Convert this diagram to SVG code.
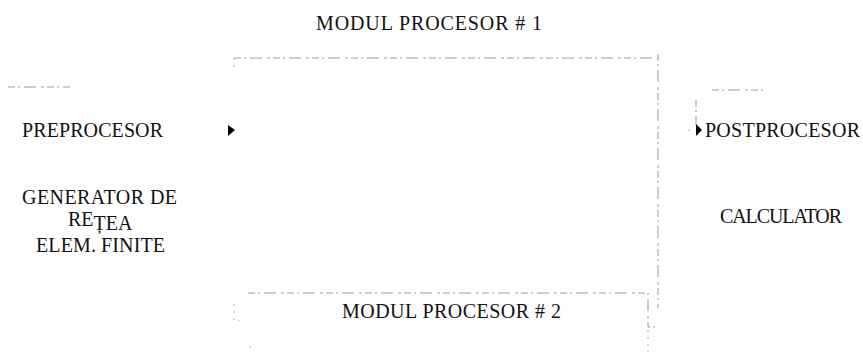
<svg xmlns="http://www.w3.org/2000/svg" width="863" height="352" viewBox="0 0 863 352">
<defs>
<style>
text{font-family:"Liberation Serif","Times New Roman",serif;font-size:20px;fill:#111}
.ln{fill:none;stroke:#9a9a9a;stroke-width:1;stroke-dasharray:7 3 2 4 12 5 3 3}
.lf{fill:none;stroke:#b0b0b0;stroke-width:1;stroke-dasharray:2 5}
.arr{fill:#000}
</style>
</defs>
<rect width="863" height="352" fill="#fff"/>
<g id="connectors">
<path class="ln" d="M234 58 H658"/>
<path class="lf" d="M234 58 V68"/>
<path class="ln" d="M658 54 V308"/>
<path class="ln" d="M248 293 H648 V327 H658"/>
<path class="lf" d="M648 330 V352"/>
<path class="lf" d="M234 304 V320 M238 320 L241 322 M250 346 V350"/>
<path class="ln" d="M8 87 H70"/>
<path class="ln" d="M712 90 H764"/>
<path class="ln" d="M696 100 V126"/>
<path class="lf" d="M688 130 H694"/>
<polygon class="arr" points="228,125 235,130 228,136"/>
<polygon class="arr" points="696,124 702,130 696,136"/>
</g>
<g id="modul1"><text x="316" y="30" textLength="226">MODUL PROCESOR # 1</text></g>
<g id="preprocesor"><text x="22" y="137" textLength="141">PREPROCESOR</text></g>
<g id="generator">
<text x="22" y="204" textLength="155">GENERATOR DE</text>
<text x="68" y="226" font-size="18">RE<tspan dy="4">ȚEA</tspan></text>
<text x="36" y="252" textLength="129">ELEM. FINITE</text>
</g>
<g id="postprocesor"><text x="705" y="137" textLength="155">POSTPROCESOR</text></g>
<g id="calculator"><text x="720" y="223" textLength="122">CALCULATOR</text></g>
<g id="modul2"><text x="342" y="318" textLength="219">MODUL PROCESOR # 2</text></g>
</svg>
